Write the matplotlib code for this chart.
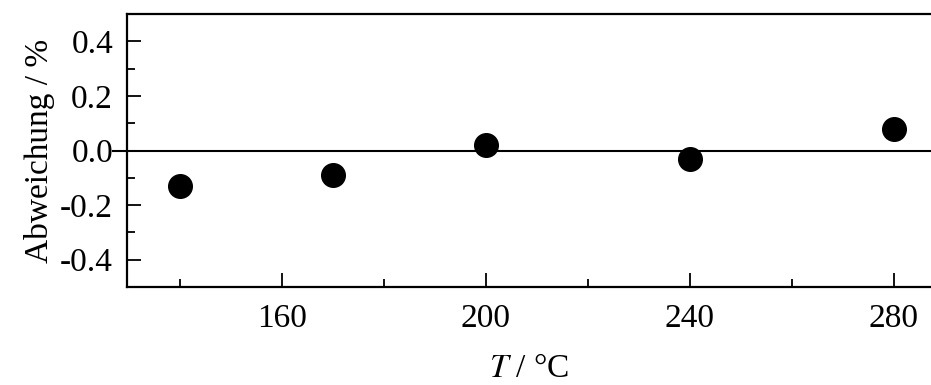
import matplotlib
matplotlib.use('Agg')
import matplotlib.pyplot as plt
from matplotlib.ticker import MultipleLocator

# Temperatures (deg C) and deviation (%)
temps = [140, 170, 200, 240, 280]
deviation = [-0.13, -0.09, 0.02, -0.03, 0.08]

plt.rcParams['font.family'] = ['Liberation Serif', 'DejaVu Serif']
plt.rcParams['font.size'] = 24
plt.rcParams['mathtext.fontset'] = 'stix'

fig = plt.figure(figsize=(9.31, 3.85), dpi=100)
ax = fig.add_axes([0.1364, 0.2545, 0.8636, 0.7091])

# zero line reaches a little past the left axis, up to the "0.0" label
ax.plot([-0.018, 1.0], [0.0, 0.0], color='black', linewidth=1.5, zorder=1,
        transform=ax.get_yaxis_transform(), clip_on=False)
ax.plot(temps, deviation, 'o', color='black', markersize=17, zorder=3)

ax.set_xlim(129.6, 287.3)
ax.set_ylim(-0.5, 0.5)

ax.xaxis.set_major_locator(MultipleLocator(40))
ax.xaxis.set_minor_locator(MultipleLocator(20))
ax.yaxis.set_minor_locator(MultipleLocator(0.1))
ax.set_yticks([-0.4, -0.2, 0.0, 0.2, 0.4])
ax.set_yticklabels(['-0.4', '-0.2', '0.0', '0.2', '0.4'])

ax.tick_params(which='both', direction='in', top=False, right=False, width=1.3)
ax.tick_params(which='major', length=10)
ax.tick_params(which='minor', length=5.5)
ax.tick_params(axis='x', which='major', pad=12)
ax.tick_params(axis='y', which='major', pad=10)

ax.spines['right'].set_visible(False)
for s in ['left', 'bottom', 'top']:
    ax.spines[s].set_linewidth(1.6)

ax.set_xlabel(r'$T$ / °C', labelpad=14)
ax.set_ylabel('Abweichung / %', labelpad=4)

fig.savefig('out.png', dpi=100)
